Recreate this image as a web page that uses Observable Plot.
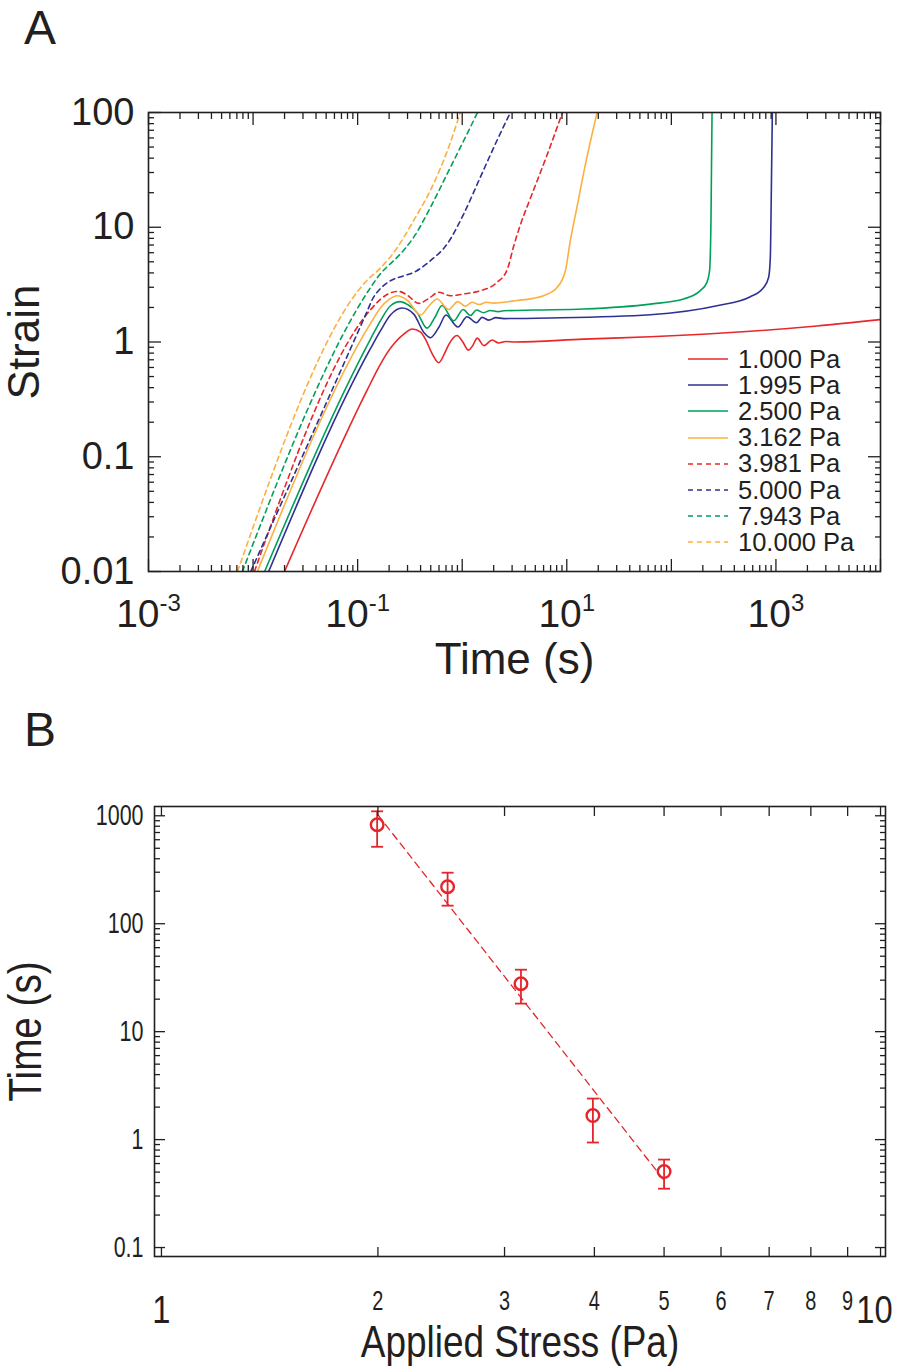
<!DOCTYPE html>
<html>
<head>
<meta charset="utf-8">
<script src="https://cdn.jsdelivr.net/npm/d3@7"></script>
<script src="https://cdn.jsdelivr.net/npm/@observablehq/plot@0.6"></script>
<style>
  body { margin: 0; background: #fff; }
  #wrap { position: relative; width: 899px; height: 1366px; overflow: hidden; background: #fff;
          font-family: "Liberation Sans", Arial, Helvetica, sans-serif; color: #231f20; }
  .panel { position: absolute; left: 0; }
  .plabel { position: absolute; left: 24px; font-size: 48px; line-height: 54px; }
  #legend { position: absolute; left: 688px; top: 346px; font-size: 25.5px; }
  .row { display: flex; align-items: center; height: 26.2px; white-space: nowrap; }
  .row svg { margin-right: 10px; }
</style>
</head>
<body>
<div id="wrap">
  <div id="pa" class="panel" style="top:0px"></div>
  <div id="pb" class="panel" style="top:700px"></div>
  <div class="plabel" style="top:1px">A</div>
  <div class="plabel" style="top:703px">B</div>
  <div id="legend"></div>
</div>
<script>
// ---------- Panel A data: strain vs time for each applied stress ----------
const stressLabels = ["1.000 Pa", "1.995 Pa", "2.500 Pa", "3.162 Pa", "3.981 Pa", "5.000 Pa", "7.943 Pa", "10.000 Pa"];
const seriesColors = ["#e6282b", "#2e3192", "#00a05a", "#fbb040", "#e6282b", "#2e3192", "#00a05a", "#fbb040"];
const seriesDashed = [false, false, false, false, true, true, true, true];

const t1 = [0.02, 0.124, 0.159, 0.191, 0.23, 0.276, 0.332, 0.40, 0.445, 0.52, 0.596, 0.68, 0.743, 0.893, 1.0, 1.15, 1.26, 1.39, 1.61, 1.93, 2.23, 2.6, 3.2, 14.5, 63, 569, 2470, 10000];
const s1 = [0.01, 0.385, 0.6, 0.8, 1.0, 1.17, 1.30, 1.22, 1.06, 0.78, 0.66, 0.8, 0.95, 1.14, 1.02, 0.85, 0.93, 1.08, 0.93, 1.04, 0.98, 1.01, 1.0, 1.06, 1.11, 1.24, 1.38, 1.57];

const t2 = [0.0141, 0.132, 0.165, 0.206, 0.266, 0.344, 0.43, 0.497, 0.6, 0.7, 0.91, 1.11, 1.37, 1.55, 1.8, 2.1, 2.5, 7, 63, 273, 569, 762, 851, 884, 904, 924];
const s2 = [0.01, 0.87, 1.25, 1.72, 1.98, 1.75, 1.21, 1.09, 1.35, 1.72, 1.35, 1.66, 1.47, 1.64, 1.55, 1.63, 1.6, 1.62, 1.73, 2.07, 2.48, 2.99, 3.65, 5.46, 21, 100];

const t3 = [0.0129, 0.132, 0.165, 0.206, 0.255, 0.3, 0.37, 0.461, 0.55, 0.641, 0.83, 1.02, 1.2, 1.37, 1.6, 1.85, 2.2, 2.5, 5, 14.5, 63, 131, 189, 219, 232, 239, 245];
const s3 = [0.01, 1.05, 1.53, 2.07, 2.25, 2.12, 1.81, 1.32, 1.65, 2.08, 1.53, 1.92, 1.7, 1.9, 1.8, 1.88, 1.84, 1.87, 1.9, 1.94, 2.14, 2.37, 2.8, 3.31, 4.18, 10.7, 100];

const t4 = [0.011, 0.132, 0.165, 0.2, 0.238, 0.3, 0.398, 0.49, 0.575, 0.743, 0.906, 1.07, 1.24, 1.45, 1.7, 2.0, 2.5, 3.35, 4.8, 6.0, 8.07, 9.7, 10.8, 12.5, 15.1, 19.5];
const s4 = [0.01, 1.44, 1.98, 2.35, 2.53, 2.3, 1.72, 2.1, 2.37, 1.92, 2.25, 2.05, 2.22, 2.12, 2.22, 2.18, 2.22, 2.3, 2.4, 2.53, 2.99, 4.18, 7.6, 14.9, 35.7, 100];

const t5 = [0.0103, 0.132, 0.165, 0.2, 0.247, 0.3, 0.384, 0.48, 0.596, 0.77, 1.035, 1.49, 2.15, 2.7, 3.1, 3.6, 4.5, 6.5, 9.1];
const s5 = [0.01, 1.9, 2.35, 2.65, 2.76, 2.55, 2.17, 2.4, 2.71, 2.53, 2.62, 2.8, 3.3, 4.3, 6.8, 10.5, 18, 43, 100];

const t6 = [0.0095, 0.12, 0.14, 0.17, 0.206, 0.27, 0.344, 0.497, 0.718, 1.035, 1.49, 2.15, 2.89];
const s6 = [0.01, 1.75, 2.4, 3.0, 3.42, 3.75, 4.04, 5.12, 7.15, 13.1, 27.3, 57, 100];

const t7 = [0.0079, 0.14, 0.16, 0.2, 0.238, 0.344, 0.497, 0.718, 1.035, 1.4];
const s7 = [0.01, 3.2, 3.8, 4.7, 5.46, 8.2, 14.9, 29.2, 57, 100];

const t8 = [0.0071, 0.125, 0.165, 0.238, 0.344, 0.497, 0.718, 0.96];
const s8 = [0.01, 3.5, 4.4, 6.6, 11.5, 21, 46, 100];

const seriesTimes = [t1, t2, t3, t4, t5, t6, t7, t8];
const seriesStrains = [s1, s2, s3, s4, s5, s6, s7, s8];

// Panel A axes
const majorAx = [1e-3, 1e-2, 1e-1, 1, 10, 100, 1000, 10000];
const labelAx = [1e-3, 1e-1, 10, 1000];
const labelAxText = ["10^-3", "10^-1", "10^1", "10^3"];
const majorAy = [0.01, 0.1, 1, 10, 100];
const labelAyText = ["0.01", "0.1", "1", "10", "100"];

// ---------- Panel B data: time to failure vs applied stress ----------
const appliedStress = [1.995, 2.5, 3.162, 3.981, 5.0];
const failTime = [826, 220, 27.8, 1.67, 0.506];
const failLow = [516, 147, 18.2, 0.94, 0.351];
const failHigh = [1100, 297, 37.5, 2.40, 0.653];
const fitStress = [2, 5];
const fitTime = [1020, 0.42];

const majorBy = [0.1, 1, 10, 100, 1000];
const labelByText = ["0.1", "1", "10", "100", "1000"];
const smallBx = [2, 3, 4, 5, 6, 7, 8, 9];
const smallBxText = ["2", "3", "4", "5", "6", "7", "8", "9"];
const bigBxLeft = [1];
const bigBxRight = [10];
const bigBxText = ["1", "10"];

// ---------- helpers ----------
const ink = "#231f20";
const fontA = "'Liberation Sans', Arial, Helvetica, sans-serif";
function minors(decades, lo, hi) {
  const out = [];
  for (const d of decades) for (let k = 2; k <= 9; k++) { const v = d * k; if (v > lo && v < hi) out.push(v); }
  return out;
}

// ---------- Panel A ----------
const lineMarks = seriesTimes.map((ts, i) =>
  Plot.line(ts.map((t, j) => ({t, s: seriesStrains[i][j]})), {
    x: "t", y: "s", curve: "monotone-x",
    stroke: seriesColors[i], strokeWidth: 1.6,
    strokeDasharray: seriesDashed[i] ? "5,4" : null,
    clip: true
  })
);
const minorAx = minors(majorAx.slice(0, -1), 1e-3, 1e4);
const minorAy = minors(majorAy.slice(0, -1), 0.01, 100);

const plotA = Plot.plot({
  width: 899, height: 700,
  marginLeft: 148, marginRight: 19, marginTop: 112, marginBottom: 129,
  x: {type: "log", domain: [1e-3, 1e4], label: null},
  y: {type: "log", domain: [0.01, 100], label: null},
  style: {fontFamily: fontA, color: ink, background: "white", overflow: "visible"},
  marks: [
    ...lineMarks,
    Plot.frame({stroke: ink, strokeWidth: 1.6}),
    Plot.axisX({anchor: "bottom", ticks: majorAx, tickSize: -12, fill: "none", label: null, strokeWidth: 1.3}),
    Plot.axisX({anchor: "bottom", ticks: minorAx, tickSize: -6, fill: "none", label: null, strokeWidth: 1.3}),
    Plot.axisX({anchor: "top", ticks: majorAx, tickSize: -12, fill: "none", label: null, strokeWidth: 1.3}),
    Plot.axisX({anchor: "top", ticks: minorAx, tickSize: -6, fill: "none", label: null, strokeWidth: 1.3}),
    Plot.axisY({anchor: "left", ticks: majorAy, tickSize: -13, fill: "none", label: null, strokeWidth: 1.3}),
    Plot.axisY({anchor: "left", ticks: minorAy, tickSize: -6, fill: "none", label: null, strokeWidth: 1.3}),
    Plot.axisY({anchor: "right", ticks: majorAy, tickSize: -13, fill: "none", label: null, strokeWidth: 1.3}),
    Plot.axisY({anchor: "right", ticks: minorAy, tickSize: -6, fill: "none", label: null, strokeWidth: 1.3}),
    Plot.axisX({anchor: "bottom", ticks: labelAx, tickSize: 0, tickPadding: 28, fontSize: 39, label: null,
                tickFormat: d => labelAxText[labelAx.indexOf(d)]}),
    Plot.axisY({anchor: "left", ticks: majorAy, tickSize: 0, tickPadding: 14, fontSize: 38, label: null,
                tickFormat: d => labelAyText[majorAy.indexOf(d)]}),
    Plot.text(["Time (s)"], {text: d => d, frameAnchor: "bottom", lineAnchor: "middle", textAnchor: "middle",
                             dy: 88, fontSize: 44, fill: ink}),
    Plot.text(["Strain"], {text: d => d, frameAnchor: "left", lineAnchor: "middle", textAnchor: "middle",
                           dx: -124, rotate: -90, fontSize: 44, fill: ink})
  ]
});
// superscript exponents on the time axis labels
plotA.querySelectorAll('g[aria-label="x-axis tick label"] text').forEach(t => {
  const parts = t.textContent.split("^");
  if (parts.length === 2) {
    t.textContent = parts[0];
    const ts = document.createElementNS("http://www.w3.org/2000/svg", "tspan");
    ts.setAttribute("dy", "-16");
    ts.setAttribute("font-size", "24");
    ts.textContent = parts[1];
    t.appendChild(ts);
  }
});
document.getElementById("pa").appendChild(plotA);

// legend
const legend = d3.select("#legend");
stressLabels.forEach((lab, i) => {
  const row = legend.append("div").attr("class", "row");
  const sv = row.append("svg").attr("width", 40).attr("height", 4);
  sv.append("line").attr("x1", 0).attr("x2", 40).attr("y1", 2).attr("y2", 2)
    .attr("stroke", seriesColors[i]).attr("stroke-width", 1.6)
    .attr("stroke-dasharray", seriesDashed[i] ? "5,4" : null);
  row.append("span").text(lab);
});

// ---------- Panel B ----------
const red = "#e3262b";
const pts = appliedStress.map((s, i) => ({s, t: failTime[i], lo: failLow[i], hi: failHigh[i]}));
const fit = fitStress.map((s, i) => ({s, t: fitTime[i]}));
const capSymbol = {draw(ctx, size) { const r = Math.sqrt(size / Math.PI); ctx.moveTo(-r, 0); ctx.lineTo(r, 0); }};
const allBx = [1, 2, 3, 4, 5, 6, 7, 8, 9, 10];
const minorBy = minors(majorBy.slice(0, -1), 0.1, 1219);

const plotB = Plot.plot({
  width: 899, height: 666,
  marginLeft: 154, marginRight: 14, marginTop: 106, marginBottom: 110,
  x: {type: "log", domain: [0.978, 10.16], label: null},
  y: {type: "log", domain: [0.0826, 1219], label: null},
  style: {fontFamily: fontA, color: ink, background: "white", overflow: "visible"},
  marks: [
    Plot.line(fit, {x: "s", y: "t", stroke: red, strokeWidth: 1.3, strokeDasharray: "7,5"}),
    Plot.ruleX(pts, {x: "s", y1: "lo", y2: "hi", stroke: red, strokeWidth: 1.8}),
    Plot.dot(pts, {x: "s", y: "lo", symbol: capSymbol, r: 6, stroke: red, strokeWidth: 1.8, fill: "none"}),
    Plot.dot(pts, {x: "s", y: "hi", symbol: capSymbol, r: 6, stroke: red, strokeWidth: 1.8, fill: "none"}),
    Plot.dot(pts, {x: "s", y: "t", r: 6.3, stroke: red, strokeWidth: 2.4, fill: "none"}),
    Plot.frame({stroke: ink, strokeWidth: 1.6}),
    Plot.axisX({anchor: "bottom", ticks: allBx, tickSize: -9, fill: "none", label: null, strokeWidth: 1.3}),
    Plot.axisX({anchor: "top", ticks: allBx, tickSize: -9, fill: "none", label: null, strokeWidth: 1.3}),
    Plot.axisY({anchor: "left", ticks: majorBy, tickSize: -11, fill: "none", label: null, strokeWidth: 1.3}),
    Plot.axisY({anchor: "left", ticks: minorBy, tickSize: -6, fill: "none", label: null, strokeWidth: 1.3}),
    Plot.axisY({anchor: "right", ticks: majorBy, tickSize: -11, fill: "none", label: null, strokeWidth: 1.3}),
    Plot.axisY({anchor: "right", ticks: minorBy, tickSize: -6, fill: "none", label: null, strokeWidth: 1.3}),
    Plot.axisX({anchor: "bottom", ticks: smallBx, tickSize: 0, tickPadding: 34, fontSize: 27, label: null,
                tickFormat: d => smallBxText[smallBx.indexOf(d)]}),
    Plot.axisX({anchor: "bottom", ticks: bigBxLeft, tickSize: 0, tickPadding: 39, fontSize: 39, label: null,
                tickFormat: () => bigBxText[0]}),
    Plot.axisX({anchor: "bottom", ticks: bigBxRight, tickSize: 0, tickPadding: 39, fontSize: 39, label: null,
                dx: -6, tickFormat: () => bigBxText[1]}),
    Plot.axisY({anchor: "left", ticks: majorBy, tickSize: 0, tickPadding: 11, fontSize: 29, label: null,
                tickFormat: d => labelByText[majorBy.indexOf(d)]}),
    Plot.text(["Applied Stress (Pa)"], {text: d => d, frameAnchor: "bottom", lineAnchor: "middle", textAnchor: "middle",
                                        dy: 86, fontSize: 44, fill: ink}),
    Plot.text(["Time (s)"], {text: d => d, frameAnchor: "left", lineAnchor: "middle", textAnchor: "middle",
                             dx: -128, rotate: -90, fontSize: 46, fill: ink})
  ]
});
document.getElementById("pb").appendChild(plotB);

// condensed lettering for panel B (compress glyphs horizontally, text stays real text)
plotB.querySelectorAll("text").forEach(t => {
  const fs = parseFloat(t.getAttribute("font-size") || (t.parentNode && t.parentNode.getAttribute("font-size")) || "0");
  const w = t.getComputedTextLength();
  if (w > 0) {
    const factor = fs >= 39 ? 0.84 : 0.74;
    t.setAttribute("textLength", (w * factor).toFixed(1));
    t.setAttribute("lengthAdjust", "spacingAndGlyphs");
  }
});
</script>
</body>
</html>
